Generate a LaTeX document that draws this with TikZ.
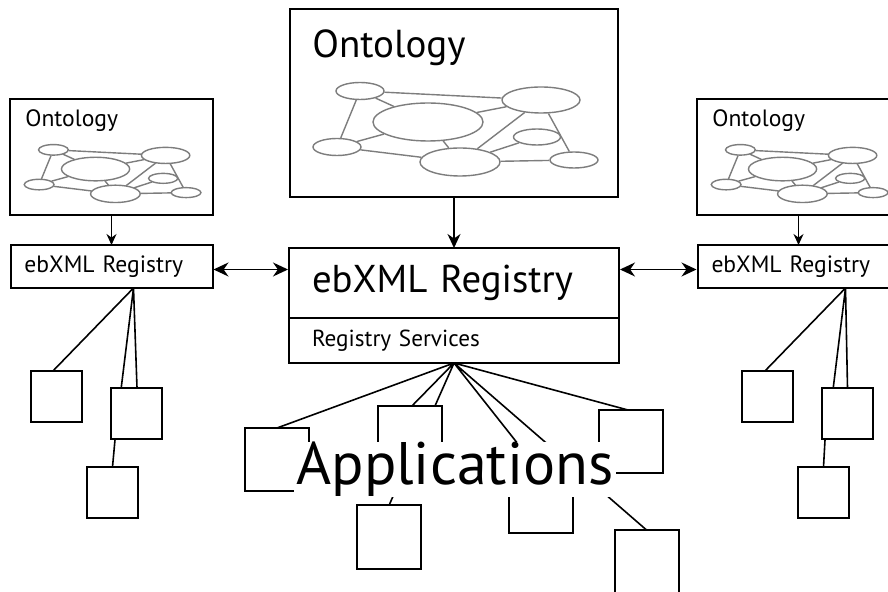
\documentclass[tikz,border=0pt]{standalone}
\usepackage{fontspec}
\setmainfont{PT Sans}
\usepackage{tikz}
\usetikzlibrary{shapes.geometric, arrows.meta, positioning, calc}
\definecolor{OntoGray}{RGB}{125,125,125}

\tikzset{
  ontobox/.style={draw, line width=1.1pt, inner sep=0pt, outer sep=0pt},
  regbox/.style={draw, line width=1pt, inner sep=0pt, outer sep=0pt, align=left},
  appbox/.style={draw, line width=1pt, inner sep=0pt, outer sep=0pt,
                 minimum width=32pt, minimum height=31.5pt},
  smallapp/.style={appbox, minimum width=25.5pt, minimum height=25.5pt},
  onode/.style={ellipse, draw=OntoGray, line width=0.7pt, inner sep=0pt,
                transform shape},
  oedge/.style={draw=OntoGray, line width=0.7pt},
  wire/.style={line width=0.8pt},
  feed/.style={-{Stealth[length=5.5pt, width=5pt]}, line width=0.6pt},
  bigfeed/.style={-{Stealth[length=7pt, width=6.5pt]}, line width=0.7pt},
  peer/.style={{Stealth[length=7.5pt, width=7pt]}-{Stealth[length=7.5pt, width=7pt]},
               line width=0.7pt},
  apptext/.style={anchor=base, inner xsep=1pt, inner ysep=0pt, fill=white,
                  font=\fontsize{30}{32}\selectfont},
  ontograph/.pic={
    \node[onode, minimum width=24pt, minimum height=8.5pt] (-a) at (70,82) {};
    \node[onode, minimum width=55pt, minimum height=19pt]  (-b) at (138,113) {};
    \node[onode, minimum width=39pt, minimum height=13pt]  (-c) at (251,91) {};
    \node[onode, minimum width=24pt, minimum height=8.5pt] (-d) at (47,138) {};
    \node[onode, minimum width=40pt, minimum height=14pt]  (-e) at (170,153) {};
    \node[onode, minimum width=23.5pt, minimum height=8pt] (-f) at (247,128) {};
    \node[onode, minimum width=24pt, minimum height=8pt]   (-g) at (284,151) {};
    \draw[oedge] (-a) -- (-c)  (-a) -- (-b)  (-a) -- (-d)  (-d) -- (-b)
                 (-d) -- (-e)  (-b) -- (-e)  (-b) -- (-c)  (-c) -- (-e)
                 (-c) -- (-g)  (-e) -- (-f)  (-e) -- (-g);
  }
}

\begin{document}
\begin{tikzpicture}[x=0.5pt, y=-0.5pt]
  \useasboundingbox (0,0) rectangle (888,592);
  \fill[white] (0,0) rectangle (888,592);
  \clip (0,0) rectangle (888,592);

  % ontologies
  \node[ontobox, minimum width=164pt, minimum height=94pt] (conto) at (454,103) {};
  \node[ontobox, minimum width=101.5pt, minimum height=58pt] (lonto) at (111.5,157) {};
  \node[ontobox, minimum width=101.5pt, minimum height=58pt] (ronto) at (798.5,157) {};

  \node[anchor=base west, inner sep=0pt, font=\fontsize{19.5}{21}\selectfont]
    (ctitle) at ($(conto.north west)+(22,49)$) {Ontology};
  \node[anchor=base west, inner sep=0pt, font=\fontsize{11.8}{13}\selectfont]
    (ltitle) at ($(lonto.north west)+(15,28)$) {Ontology};
  \node[anchor=base west, inner sep=0pt, font=\fontsize{11.8}{13}\selectfont]
    (rtitle) at ($(ronto.north west)+(15,28)$) {Ontology};

  \pic (cg) at (conto.north west) {ontograph};
  \pic[scale=0.62] (lg) at (lonto.north west) {ontograph};
  \pic[scale=0.62] (rg) at (ronto.north west) {ontograph};

  % registries
  \node[regbox, below=25.5pt of conto, minimum width=165pt, minimum height=35pt,
        inner xsep=11.5pt, text width=142pt, font=\fontsize{19.4}{21}\selectfont]
    (creg) {ebXML Registry};
  \node[regbox, below=0pt of creg, minimum width=165pt, minimum height=22.5pt,
        inner xsep=11.5pt, text width=142pt, font=\fontsize{11.6}{13}\selectfont]
    (csvc) {Registry Services};
  \node[regbox, below=15pt of lonto, minimum width=101pt, minimum height=21.5pt,
        inner xsep=7pt, text width=87pt, font=\fontsize{11.8}{13}\selectfont]
    (lreg) {ebXML Registry};
  \node[regbox, below=15pt of ronto, minimum width=101pt, minimum height=21.5pt,
        inner xsep=7pt, text width=87pt, font=\fontsize{11.8}{13}\selectfont]
    (rreg) {ebXML Registry};

  \draw[feed] (lonto.south) -- (lreg.north);
  \draw[bigfeed] (conto.south) -- (conto.south |- creg.north);
  \draw[feed] (ronto.south) -- (rreg.north);
  \draw[peer] ($(lreg.east)+(1,3)$) -- ($(lreg.east -| creg.west)+(-1,3)$);
  \draw[peer] ($(rreg.west -| creg.east)+(1,3)$) -- ($(rreg.west)+(-1,3)$);

  % applications
  \node[smallapp] (la) at (56.5,396.5) {};
  \node[smallapp] (lb) at (136.5,413.5) {};
  \node[smallapp] (lc) at (112.5,492.5) {};
  \node[smallapp] (ra) at (767.5,396.5) {};
  \node[smallapp] (rb) at (847.5,413.5) {};
  \node[smallapp] (rc) at (823.5,492.5) {};
  \node[appbox] (app1) at (277,459.5) {};
  \node[appbox] (app2) at (410,437.5) {};
  \node[appbox] (app3) at (389,537) {};
  \node[appbox] (app4) at (540.5,501.5) {};
  \node[appbox] (app5) at (630.5,441.5) {};
  \node[appbox] (app6) at (646.5,561.5) {};

  \coordinate (lhub) at ($(lreg.south west)+(123,0)$);
  \coordinate (rhub) at ($(rreg.south west)+(148,0)$);
  \coordinate (chub) at (csvc.south);

  \draw[wire] (lhub) -- ($(la.north west)!0.43!(la.north east)$)
              (lhub) -- ($(lb.north west)!0.2!(lb.north east)$)
              (lhub) -- ($(lb.north west)!0.51!(lb.north east)$)
              ($(lb.south west)!0.08!(lb.south east)$) -- (lc.north);
  \draw[wire] (rhub) -- ($(ra.north west)!0.45!(ra.north east)$)
              (rhub) -- ($(rb.north west)!0.22!(rb.north east)$)
              (rhub) -- (rb.north)
              ($(rb.south west)!0.06!(rb.south east)$) -- (rc.north);
  \draw[wire] (chub) -- (app1.north)
              (chub) -- ($(app2.north west)!0.53!(app2.north east)$)
              (chub) -- ($(app2.north west)!0.89!(app2.north east)$)
              ($(app2.south west)!0.42!(app2.south east)$) -- (app3.north)
              (chub) -- ($(app4.north west)!0.47!(app4.north east)$)
              (chub) -- ($(app5.north west)!0.46!(app5.north east)$)
              (chub) -- (app6.north);

  % label on top, hides what is under it
  \node[apptext] (apps) at (455,485) {Applications};
\end{tikzpicture}
\end{document}
